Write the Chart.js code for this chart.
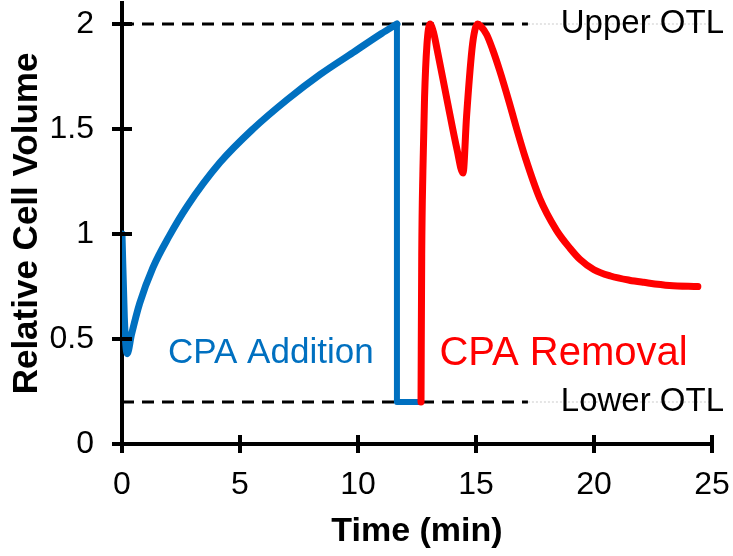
<!DOCTYPE html>
<html>
<head>
<meta charset="utf-8">
<script src="https://cdn.jsdelivr.net/npm/chart.js@4"></script>
<style>
    html, body { margin: 0; padding: 0; background: #fff; }
    #wrap { width: 733px; height: 556px; position: relative; }
</style>
</head>
<body>
<div id="wrap"><canvas id="volumeChart"></canvas></div>
<script>
// ==================== Relative cell volume during CPA addition / removal ====================

// Valori (tempo in min, volume relativo)
const additionTime   = [0, 0.1, 0.22, 0.4, 0.75, 1.31, 2.0, 2.75, 4.15, 5.55, 7.0, 8.4, 9.8, 11.0, 11.65];
const additionVolume = [1.0, 0.6, 0.43, 0.52, 0.67, 0.84, 0.99, 1.13, 1.34, 1.5, 1.64, 1.76, 1.865, 1.955, 2.0];

// Caduta verticale e tratto al limite inferiore
const dropTime   = [11.65, 11.65, 12.67];
const dropVolume = [2.0, 0.2, 0.2];

const removalTime   = [12.67, 12.7, 12.75, 12.82, 12.92, 13.05, 13.2, 13.35, 13.77, 14.2, 14.45, 14.6, 14.83, 14.95, 15.07, 15.2, 15.45, 15.7, 16.0, 16.4, 16.7, 17.1, 17.7, 18.4, 19.0, 19.4, 20.0, 20.7, 21.5, 22.1, 23.2, 24.4];
const removalVolume = [0.2, 0.9, 1.3, 1.65, 1.9, 2.0, 1.96, 1.88, 1.64, 1.4, 1.29, 1.56, 1.88, 1.97, 2.0, 1.99, 1.95, 1.88, 1.78, 1.63, 1.51, 1.36, 1.17, 1.02, 0.93, 0.88, 0.83, 0.8, 0.78, 0.77, 0.755, 0.75];

// Limiti di tolleranza osmotica
const upperOTL = 2.0;
const lowerOTL = 0.2;
const otlDashEnd = 17.2;
const otlEnd = 25;

const xTicks = [0, 5, 10, 15, 20, 25];
const yTicks = [0, 0.5, 1, 1.5, 2];

const FONT = "Arial, 'Liberation Sans', sans-serif";
const BLUE = '#0070C0';
const RED = '#FF0000';

function toPoints(xs, ys) {
    return xs.map((x, i) => ({ x: x, y: ys[i] }));
}

// Niente padding extra per le etichette agli estremi
function fixScale(size, key) {
    return scale => {
        scale[key] = size;
        scale.paddingLeft = 0;
        scale.paddingRight = 0;
        scale.paddingTop = 0;
        scale.paddingBottom = 0;
    };
}

// Tacche che attraversano gli assi (stile Excel "cross")
const crossTicks = {
    id: 'crossTicks',
    afterDraw(chart) {
        const { ctx, scales: { x, y } } = chart;
        ctx.save();
        ctx.strokeStyle = '#000';
        ctx.lineWidth = 4;
        const yAxis = y.getPixelForValue(0);
        xTicks.forEach(v => {
            const px = x.getPixelForValue(v);
            ctx.beginPath();
            ctx.moveTo(px, yAxis - 9);
            ctx.lineTo(px, yAxis + 9);
            ctx.stroke();
        });
        const xAxis = x.getPixelForValue(0);
        yTicks.forEach(v => {
            const py = y.getPixelForValue(v);
            ctx.beginPath();
            ctx.moveTo(xAxis - 10, py);
            ctx.lineTo(xAxis + 10, py);
            ctx.stroke();
        });
        ctx.restore();
    }
};

// Etichette di testo dentro il grafico
const annotations = {
    id: 'annotations',
    afterDraw(chart) {
        const { ctx, scales: { x, y } } = chart;
        ctx.save();
        ctx.textBaseline = 'middle';
        ctx.textAlign = 'left';
        ctx.font = '35px ' + FONT;
        ctx.fillStyle = BLUE;
        ctx.fillText('CPA Addition', x.getPixelForValue(1.95), y.getPixelForValue(0.43));
        ctx.font = '40px ' + FONT;
        ctx.fillStyle = RED;
        ctx.fillText('CPA Removal', x.getPixelForValue(13.45), y.getPixelForValue(0.43));

        ctx.font = '33px ' + FONT;
        ctx.fillStyle = '#000';
        ctx.textAlign = 'right';
        ctx.fillText('Upper OTL', 724, y.getPixelForValue(upperOTL));
        ctx.fillText('Lower OTL', 724, y.getPixelForValue(lowerOTL));
        ctx.restore();
    }
};

const ctx = document.getElementById('volumeChart').getContext('2d');

const otlLine = (xs, ys, color, width, dash, order) => ({
    data: toPoints(xs, ys),
    showLine: true,
    borderColor: color,
    borderWidth: width,
    borderDash: dash,
    pointRadius: 0,
    order: order
});

new Chart(ctx, {
    type: 'scatter',
    data: {
        datasets: [
            Object.assign({ label: 'Upper OTL faint' }, otlLine([otlDashEnd, otlEnd], [upperOTL, upperOTL], '#cccccc', 1, [2, 2], 5)),
            Object.assign({ label: 'Lower OTL faint' }, otlLine([otlDashEnd, otlEnd], [lowerOTL, lowerOTL], '#cccccc', 1, [2, 2], 5)),
            Object.assign({ label: 'Upper OTL' }, otlLine([0, otlDashEnd], [upperOTL, upperOTL], '#000', 3, [12, 8], 4)),
            Object.assign({ label: 'Lower OTL' }, otlLine([0, otlDashEnd], [lowerOTL, lowerOTL], '#000', 3, [12, 8], 4)),
        {
            label: 'CPA Addition',
            data: toPoints(additionTime, additionVolume),
            showLine: true,
            borderColor: BLUE,
            borderWidth: 7,
            borderJoinStyle: 'round',
            borderCapStyle: 'round',
            cubicInterpolationMode: 'monotone',
            pointRadius: 0,
            order: 2
        }, {
            label: 'CPA Addition drop',
            data: toPoints(dropTime, dropVolume),
            showLine: true,
            borderColor: BLUE,
            borderWidth: 6,
            borderJoinStyle: 'round',
            borderCapStyle: 'round',
            tension: 0,
            pointRadius: 0,
            order: 2
        }, {
            label: 'CPA Removal',
            data: toPoints(removalTime, removalVolume),
            showLine: true,
            borderColor: RED,
            borderWidth: 7,
            borderJoinStyle: 'round',
            borderCapStyle: 'round',
            cubicInterpolationMode: 'monotone',
            pointRadius: 0,
            order: 1
        }]
    },
    options: {
        responsive: true,
        maintainAspectRatio: false,
        animation: false,
        layout: { padding: { left: 0, right: 21, top: 3, bottom: 0 } },
        plugins: {
            legend: { display: false },
            tooltip: { enabled: false }
        },
        scales: {
            x: {
                type: 'linear',
                min: 0,
                max: 25,
                afterFit: fixScale(112, 'height'),
                afterBuildTicks: scale => { scale.ticks = xTicks.map(v => ({ value: v })); },
                grid: { display: false, drawTicks: false },
                border: { display: true, color: '#000', width: 4 },
                ticks: {
                    color: '#000',
                    padding: 22,
                    font: { family: FONT, size: 32 },
                    callback: v => String(v)
                },
                title: {
                    display: true,
                    text: 'Time (min)',
                    color: '#000',
                    padding: { top: 0, bottom: 4 },
                    font: { family: FONT, size: 34, weight: 'bold' }
                }
            },
            y: {
                type: 'linear',
                min: 0,
                max: 2.1,
                afterFit: fixScale(122, 'width'),
                afterBuildTicks: scale => { scale.ticks = yTicks.map(v => ({ value: v })); },
                grid: { display: false, drawTicks: false },
                border: { display: true, color: '#000', width: 4 },
                ticks: {
                    color: '#000',
                    padding: 28,
                    font: { family: FONT, size: 32 },
                    callback: v => String(v)
                },
                title: {
                    display: true,
                    text: 'Relative Cell Volume',
                    color: '#000',
                    padding: { top: 6, bottom: 0 },
                    font: { family: FONT, size: 35, weight: 'bold' }
                }
            }
        }
    },
    plugins: [crossTicks, annotations]
});
</script>
</body>
</html>
